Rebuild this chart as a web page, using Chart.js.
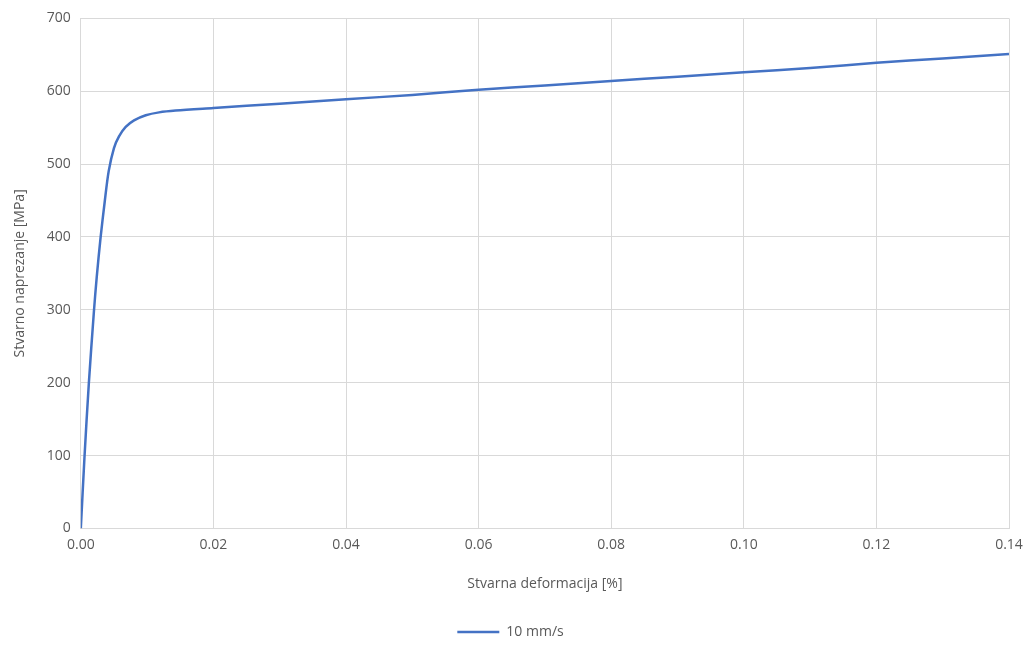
<!DOCTYPE html>
<html>
<head>
<meta charset="utf-8">
<script src="https://cdn.jsdelivr.net/npm/chart.js@4.4.0/dist/chart.umd.min.js"></script>
<style>
    html, body { margin: 0; padding: 0; background: #ffffff; }
    #wrap { width: 1031px; height: 649px; position: relative; }
</style>
</head>
<body>
<div id="wrap"><canvas id="stressChart"></canvas></div>
<script>
// Podaci očitani s krivulje (deformacija, naprezanje)
const seriesLabel = '10 mm/s';
const strain = [0, 0.00056, 0.00121, 0.00197, 0.00240, 0.00298, 0.00360, 0.00420, 0.0050, 0.00576,
    0.00677, 0.00803, 0.0098, 0.0118, 0.0143, 0.020, 0.030, 0.040, 0.050, 0.060,
    0.070, 0.080, 0.090, 0.100, 0.110, 0.120, 0.130, 0.140];
const stress = [0, 99, 199, 297, 345, 399, 448, 490, 522, 538,
    551, 560, 567, 571, 573.5, 577, 583, 589, 595, 602,
    608, 614, 620, 626, 632, 639, 645, 651];
const xTitle = 'Stvarna deformacija [%]';
const yTitle = 'Stvarno naprezanje [MPa]';

document.addEventListener('DOMContentLoaded', function() {
    const ctx = document.getElementById('stressChart').getContext('2d');
    const textColor = '#595959';
    const gridColor = '#d9d9d9';
    const font = { family: 'Open Sans', size: 14 };

    new Chart(ctx, {
        type: 'scatter',
        data: {
            datasets: [{
                label: seriesLabel,
                data: strain.map((x, i) => ({ x: x, y: stress[i] })),
                showLine: true,
                borderColor: '#4472c4',
                backgroundColor: '#4472c4',
                borderWidth: 2.5,
                pointRadius: 0,
                pointStyle: 'line',
                tension: 0.3
            }]
        },
        options: {
            responsive: true,
            maintainAspectRatio: false,
            animation: false,
            layout: { padding: { left: 12, right: 22, top: 8, bottom: 0 } },
            scales: {
                x: {
                    type: 'linear',
                    min: 0,
                    max: 0.14,
                    ticks: {
                        stepSize: 0.02,
                        color: textColor,
                        font: font,
                        padding: 8,
                        callback: v => v.toFixed(2)
                    },
                    grid: { color: gridColor, drawTicks: false },
                    border: { color: gridColor },
                    title: { display: true, text: xTitle, color: textColor, font: font, padding: { top: 14, bottom: 24 } }
                },
                y: {
                    min: 0,
                    max: 700,
                    ticks: { stepSize: 100, color: textColor, font: font, padding: 10 },
                    grid: { color: gridColor, drawTicks: false },
                    border: { color: gridColor },
                    title: { display: true, text: yTitle, color: textColor, font: font, padding: { top: 0, bottom: 8 } }
                }
            },
            plugins: {
                legend: {
                    position: 'bottom',
                    labels: {
                        color: textColor,
                        font: font,
                        usePointStyle: true,
                        pointStyleWidth: 42,
                        padding: 9
                    }
                },
                tooltip: { enabled: false }
            }
        }
    });
});
</script>
</body>
</html>
